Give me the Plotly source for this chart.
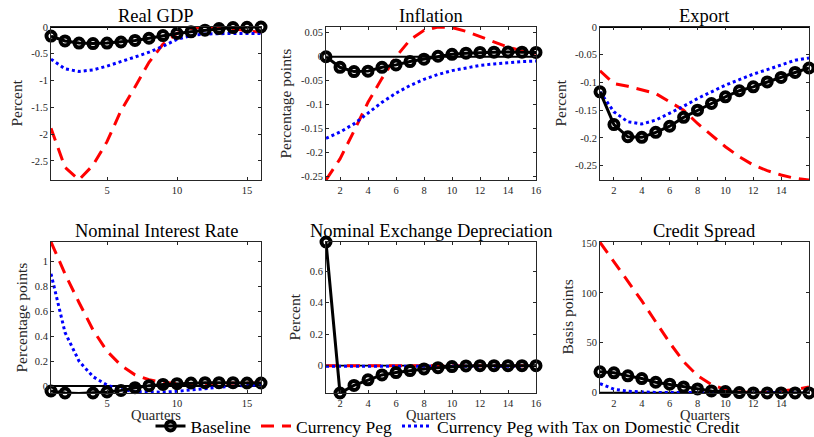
import plotly.graph_objects as go

W, H = 814, 437

quarters = list(range(1, 17))

# ---------------- data ----------------
gdp_base = [-0.17, -0.26, -0.30, -0.31, -0.30, -0.28, -0.25, -0.21, -0.16, -0.12, -0.09, -0.06, -0.03, -0.01, -0.005, 0.0]
gdp_peg = [-1.89, -2.62, -2.85, -2.58, -2.14, -1.56, -1.12, -0.66, -0.32, -0.12, -0.03, 0.0, -0.005, -0.03, -0.07, -0.10]
gdp_tax = [-0.60, -0.78, -0.83, -0.80, -0.73, -0.65, -0.56, -0.47, -0.36, -0.23, -0.16, -0.13, -0.12, -0.12, -0.12, -0.12]

infl_base = [0.0, -0.022, -0.031, -0.030, -0.022, -0.017, -0.010, -0.005, 0.001, 0.005, 0.0075, 0.009, 0.0095, 0.010, 0.0095, 0.009]
infl_peg = [-0.257, -0.213, -0.155, -0.095, -0.045, 0.0, 0.035, 0.055, 0.062, 0.061, 0.053, 0.042, 0.030, 0.020, 0.012, 0.007]
infl_tax = [-0.170, -0.157, -0.140, -0.118, -0.095, -0.076, -0.060, -0.047, -0.037, -0.029, -0.023, -0.018, -0.015, -0.012, -0.010, -0.009]

exp_base = [-0.117, -0.176, -0.198, -0.199, -0.190, -0.179, -0.163, -0.150, -0.138, -0.126, -0.115, -0.108, -0.099, -0.091, -0.082, -0.074]
exp_peg = [-0.079, -0.102, -0.107, -0.113, -0.120, -0.135, -0.150, -0.174, -0.195, -0.216, -0.234, -0.249, -0.259, -0.267, -0.273, -0.276]
exp_tax = [-0.117, -0.153, -0.171, -0.175, -0.168, -0.156, -0.143, -0.129, -0.117, -0.105, -0.095, -0.085, -0.077, -0.068, -0.060, -0.056]

ir_base = [-0.040, -0.056, -0.060, -0.056, -0.048, -0.035, -0.013, 0.003, 0.013, 0.019, 0.024, 0.027, 0.027, 0.027, 0.024, 0.024]
ir_peg = [1.155, 0.90, 0.67, 0.45, 0.28, 0.166, 0.09, 0.05, 0.03, 0.02, 0.02, 0.02, 0.02, 0.02, 0.025, 0.025]
ir_tax = [0.90, 0.43, 0.20, 0.075, 0.008, -0.028, -0.045, -0.050, -0.050, -0.042, -0.030, -0.018, -0.008, 0.0, 0.005, 0.010]

ner_base = [0.787, -0.174, -0.126, -0.090, -0.059, -0.044, -0.031, -0.021, -0.013, -0.006, -0.002, 0.0, 0.0, 0.0, 0.0, 0.0]
ner_peg = [0.0] * 16
ner_tax = [-0.004] * 16

cs_base = [20.8, 19.8, 16.8, 14.1, 10.4, 8.4, 5.7, 3.7, 1.7, 1.0, 0.0, -0.3, -0.3, -0.3, -0.3, -0.3]
cs_peg = [150.7, 131, 112, 92, 71, 50, 31, 17, 8, 3, 0.8, 0.0, 0.3, 1.3, 3.0, 5.7]
cs_tax = [9.0, 3.4, 1.3, 0.5, 0.2, 0.0, 0.0, 0.0, 0.0, 0.0, 0.0, 0.0, 0.0, 0.0, 0.0, 0.0]

titles = ["Real GDP", "Inflation", "Export",
          "Nominal Interest Rate", "Nominal Exchange Depreciation", "Credit Spread"]
ylabels = ["Percent", "Percentage points", "Percent",
           "Percentage points", "Percent", "Basis points"]
series_names = ["Baseline", "Currency Peg", "Currency Peg with Tax on Domestic Credit"]

xticks_wide = [5, 10, 15]
xticks_fine = [2, 4, 6, 8, 10, 12, 14, 16]
yticks = [
    [-2.5, -2, -1.5, -1, -0.5, 0],
    [-0.25, -0.2, -0.15, -0.1, -0.05, 0, 0.05],
    [-0.25, -0.2, -0.15, -0.1, -0.05, 0],
    [0, 0.2, 0.4, 0.6, 0.8, 1],
    [0, 0.2, 0.4, 0.6],
    [0, 50, 100, 150],
]
yranges = [[-2.855, 0], [-0.257, 0.062], [-0.276, 0], [-0.056, 1.155], [-0.174, 0.787], [-0.4, 151]]

panels = [
    (gdp_base, gdp_peg, gdp_tax),
    (infl_base, infl_peg, infl_tax),
    (exp_base, exp_peg, exp_tax),
    (ir_base, ir_peg, ir_tax),
    (ner_base, ner_peg, ner_tax),
    (cs_base, cs_peg, cs_tax),
]

# ---------------- layout geometry (pixels) ----------------
col_px = [(51, 261), (326, 536), (600, 809)]
row_px = [(27, 180), (242, 393)]
ylab_x = [16, 285, 560, 21, 294, 567]

FONT = "'Liberation Serif', 'Times New Roman', 'DejaVu Serif', serif"
TICKC = "#262626"


def fmt(v):
    return "%g" % v


fig = go.Figure()
layout = dict(
    width=W, height=H,
    margin=dict(l=0, r=0, t=0, b=0, autoexpand=False),
    paper_bgcolor="white", plot_bgcolor="white",
    font=dict(family=FONT, color="black"),
    showlegend=True,
    legend=dict(orientation="h", x=448 / W, xanchor="center", y=(H - 426) / H, yanchor="middle",
                font=dict(family=FONT, size=17.5, color="black"), bgcolor="rgba(0,0,0,0)",
                itemwidth=30, tracegroupgap=0),
)
annotations = []
shapes = []

for i, (base, peg, tax) in enumerate(panels):
    r, c = divmod(i, 3)
    n = i + 1
    xa = "x" if n == 1 else f"x{n}"
    ya = "y" if n == 1 else f"y{n}"
    xk = "xaxis" if n == 1 else f"xaxis{n}"
    yk = "yaxis" if n == 1 else f"yaxis{n}"
    x0, x1 = col_px[c]
    top, bot = row_px[r]
    xt = xticks_wide if c == 0 else xticks_fine
    layout[xk] = dict(
        domain=[x0 / W, x1 / W], anchor=ya, range=[1, 16],
        tickvals=xt, ticktext=[fmt(v) for v in xt],
        ticks="inside", ticklen=3, tickwidth=1, tickcolor=TICKC,
        showline=True, linecolor=TICKC, linewidth=1, mirror="ticks",
        showgrid=False, zeroline=False, automargin=False,
        tickfont=dict(family=FONT, size=10.5, color=TICKC),
    )
    yt = yticks[i]
    layout[yk] = dict(
        domain=[1 - bot / H, 1 - top / H], anchor=xa, range=yranges[i],
        tickvals=yt, ticktext=[fmt(v) for v in yt],
        ticks="inside", ticklen=3, tickwidth=1, tickcolor=TICKC,
        showline=True, linecolor=TICKC, linewidth=1, mirror="ticks",
        showgrid=False, zeroline=False, automargin=False,
        tickfont=dict(family=FONT, size=10.5, color=TICKC),
    )
    # zero reference line
    shapes.append(dict(type="line", xref=f"{xa} domain", yref=ya, x0=0, x1=1, y0=0, y1=0,
                       line=dict(color="black", width=1.8), layer="below"))

    fig.add_trace(go.Scatter(
        x=quarters, y=peg, xaxis=xa, yaxis=ya, mode="lines", name=series_names[1],
        line=dict(color="#FF0000", width=3, dash="13px,8px"), showlegend=(i == 0), legendrank=2))
    fig.add_trace(go.Scatter(
        x=quarters, y=tax, xaxis=xa, yaxis=ya, mode="lines", name=series_names[2],
        line=dict(color="#0000FF", width=3, dash="3px,3px"), showlegend=(i == 0), legendrank=3))
    fig.add_trace(go.Scatter(
        x=quarters, y=base, xaxis=xa, yaxis=ya, mode="lines+markers", name=series_names[0],
        line=dict(color="black", width=3),
        marker=dict(symbol="circle-open", size=9, color="black", line=dict(width=4, color="black")),
        cliponaxis=False, showlegend=(i == 0), legendrank=1))

    xc = (x0 + x1) / 2
    annotations.append(dict(text=titles[i], xref="paper", yref="paper", x=xc / W,
                            y=1 - (16 if r == 0 else 231) / H, xanchor="center", yanchor="middle",
                            showarrow=False, font=dict(family=FONT, size=18.5, color="black")))
    annotations.append(dict(text=ylabels[i], xref="paper", yref="paper", x=ylab_x[i] / W,
                            y=1 - ((top + bot) / 2) / H, xanchor="center", yanchor="middle",
                            textangle=-90, showarrow=False,
                            font=dict(family=FONT, size=15.5, color=TICKC)))
    if r == 1:
        annotations.append(dict(text="Quarters", xref="paper", yref="paper", x=xc / W,
                                y=1 - 414.5 / H, xanchor="center", yanchor="middle",
                                showarrow=False, font=dict(family=FONT, size=14.5, color=TICKC)))

layout["annotations"] = annotations
layout["shapes"] = shapes
fig.update_layout(**layout)
fig.write_html("out.html")
